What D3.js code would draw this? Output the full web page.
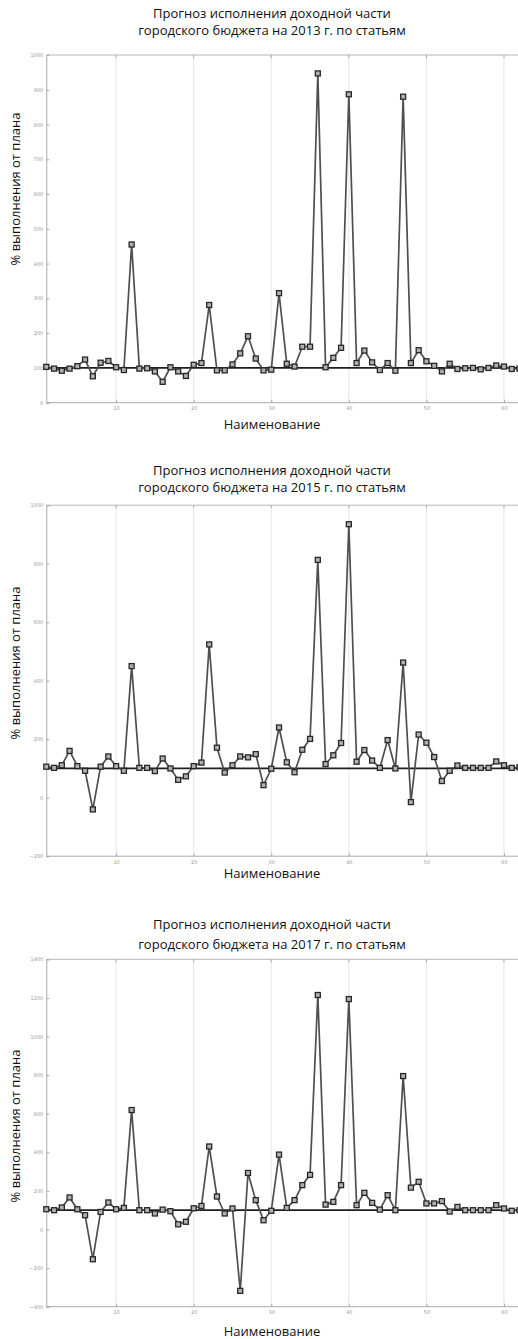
<!DOCTYPE html>
<html>
<head>
<meta charset="utf-8">
<script src="https://cdn.jsdelivr.net/npm/d3@7"></script>
<style>
  html, body { margin: 0; padding: 0; background: #fff; }
  svg { display: block; font-family: "Open Sans", "Noto Sans", sans-serif; }
</style>
</head>
<body>
<svg id="chart" width="518" height="1339"></svg>
<script>
// Budget revenue forecast: % of plan per revenue item, three forecast years
const itemCount = 62;
const xTicks = [10, 20, 30, 40, 50, 60];

const years = ["2013", "2015", "2017"];

const values2013 = [103, 98, 92, 98, 105, 124, 76, 115, 120, 102,
  94, 455, 98, 99, 90, 60, 102, 90, 77, 109,
  114, 281, 93, 93, 110, 142, 191, 127, 93, 95,
  315, 112, 104, 161, 161, 947, 102, 129, 158, 887,
  114, 150, 116, 94, 114, 92, 880, 114, 151, 119,
  106, 90, 112, 97, 99, 100, 96, 100, 107, 104,
  97, 98];

const values2015 = [106, 102, 111, 160, 108, 92, -40, 106, 141, 108,
  92, 450, 102, 102, 91, 134, 100, 61, 73, 108,
  120, 524, 171, 86, 111, 141, 138, 149, 43, 99,
  240, 121, 87, 164, 201, 813, 115, 145, 187, 935,
  123, 163, 127, 102, 197, 100, 462, -15, 216, 188,
  139, 57, 92, 110, 102, 102, 102, 102, 124, 111,
  102, 104];

const values2017 = [105, 100, 114, 166, 105, 74, -154, 91, 140, 105,
  112, 619, 100, 100, 83, 103, 95, 27, 40, 110,
  122, 430, 171, 83, 109, -318, 293, 152, 48, 97,
  388, 112, 152, 230, 283, 1215, 129, 143, 230, 1194,
  126, 190, 138, 103, 178, 100, 795, 217, 247, 135,
  135, 147, 93, 117, 100, 100, 100, 100, 126, 109,
  97, 100];

const yTicks2013 = [0, 100, 200, 300, 400, 500, 600, 700, 800, 900, 1000];
const yTicks2015 = [-200, 0, 200, 400, 600, 800, 1000];
const yTicks2017 = [-400, -200, 0, 200, 400, 600, 800, 1000, 1200, 1400];

const planLevel = 100;

const titleLine1 = "Прогноз исполнения доходной части";
const titleLine2 = y => `городского бюджета на ${y} г. по статьям`;
const xLabel = "Наименование";
const yLabel = "% выполнения от плана";

// Per-panel layout
const panels = [
  { year: years[0], values: values2013, ticks: yTicks2013, domain: [0, 1000],
    top: 55, bottom: 402.7, t1: 18, t2: 35, xl: 429, ylc: 189 },
  { year: years[1], values: values2015, ticks: yTicks2015, domain: [-200, 1000],
    top: 505.2, bottom: 856.2, t1: 475, t2: 492, xl: 878, ylc: 663 },
  { year: years[2], values: values2017, ticks: yTicks2017, domain: [-400, 1400],
    top: 959.3, bottom: 1306.7, t1: 929, t2: 949, xl: 1336, ylc: 1126 }
];

const svg = d3.select("#chart");
svg.append("rect").attr("width", 518).attr("height", 1339).attr("fill", "#fff");

const left = 46.3, right = 519.5, centerX = 272;
const x = d3.scaleLinear().domain([1, itemCount]).range([left, right]);

panels.forEach(p => {
  const y = d3.scaleLinear().domain(p.domain).range([p.bottom, p.top]);
  const g = svg.append("g");

  // vertical grid
  g.append("g").selectAll("line").data(xTicks).join("line")
    .attr("x1", d => x(d)).attr("x2", d => x(d))
    .attr("y1", p.top).attr("y2", p.bottom)
    .attr("stroke", "#e6e6e6").attr("stroke-width", 1);

  // frame top line
  g.append("line").attr("x1", left).attr("x2", 518)
    .attr("y1", p.top).attr("y2", p.top)
    .attr("stroke", "#b5b5b5").attr("stroke-width", 1);

  // y axis
  const yAxis = d3.axisLeft(y).tickValues(p.ticks).tickSize(-3).tickPadding(3)
    .tickFormat(d3.format("d"));
  const ya = g.append("g").attr("transform", `translate(${left},0)`).call(yAxis);
  ya.select(".domain").attr("stroke", "#aaa");
  ya.selectAll(".tick line").attr("stroke", "#aaa");
  ya.selectAll(".tick text").attr("fill", "#9a9a9a").attr("font-size", 5)
    .attr("font-family", "DejaVu Sans, sans-serif");

  // x axis
  const xAxis = d3.axisBottom(x).tickValues(xTicks).tickSize(-3).tickPadding(4)
    .tickFormat(d3.format("d"));
  const xa = g.append("g").attr("transform", `translate(0,${p.bottom})`).call(xAxis);
  xa.select(".domain").attr("stroke", "#aaa").attr("d", `M${left},0H518`);
  xa.selectAll(".tick line").attr("stroke", "#aaa");
  xa.selectAll(".tick text").attr("fill", "#9a9a9a").attr("font-size", 5)
    .attr("font-family", "DejaVu Sans, sans-serif");

  // top ticks
  g.append("g").selectAll("line").data(xTicks).join("line")
    .attr("x1", d => x(d)).attr("x2", d => x(d))
    .attr("y1", p.top).attr("y2", p.top + 3)
    .attr("stroke", "#aaa");

  // plan level reference line
  g.append("line").attr("x1", left).attr("x2", 518)
    .attr("y1", y(planLevel)).attr("y2", y(planLevel))
    .attr("stroke", "#1e1e1e").attr("stroke-width", 1.8);

  // series line
  const pts = p.values.map((v, i) => [i + 1, v]);
  g.append("path").datum(pts)
    .attr("d", d3.line().x(d => x(d[0])).y(d => y(d[1])))
    .attr("fill", "none").attr("stroke", "#4f4f4f").attr("stroke-width", 1.7)
    .attr("stroke-linejoin", "round");

  // square markers
  const s = 5;
  g.append("g").selectAll("rect").data(pts).join("rect")
    .attr("x", d => x(d[0]) - s / 2).attr("y", d => y(d[1]) - s / 2)
    .attr("width", s).attr("height", s)
    .attr("fill", "#b0b0b0").attr("stroke", "#262626").attr("stroke-width", 1.3);

  // titles
  g.append("text").attr("x", centerX).attr("y", p.t1).attr("text-anchor", "middle")
    .attr("font-size", 13).attr("fill", "#111").text(titleLine1);
  g.append("text").attr("x", centerX).attr("y", p.t2).attr("text-anchor", "middle")
    .attr("font-size", 13).attr("fill", "#111").text(titleLine2(p.year));

  g.append("text").attr("x", centerX).attr("y", p.xl).attr("text-anchor", "middle")
    .attr("font-size", 13).attr("fill", "#111").text(xLabel);

  g.append("text").attr("transform", `translate(15,${p.ylc}) rotate(-90)`)
    .attr("text-anchor", "middle").attr("dy", "0.35em")
    .attr("font-size", 13).attr("fill", "#111").text(yLabel);
});
</script>
</body>
</html>
